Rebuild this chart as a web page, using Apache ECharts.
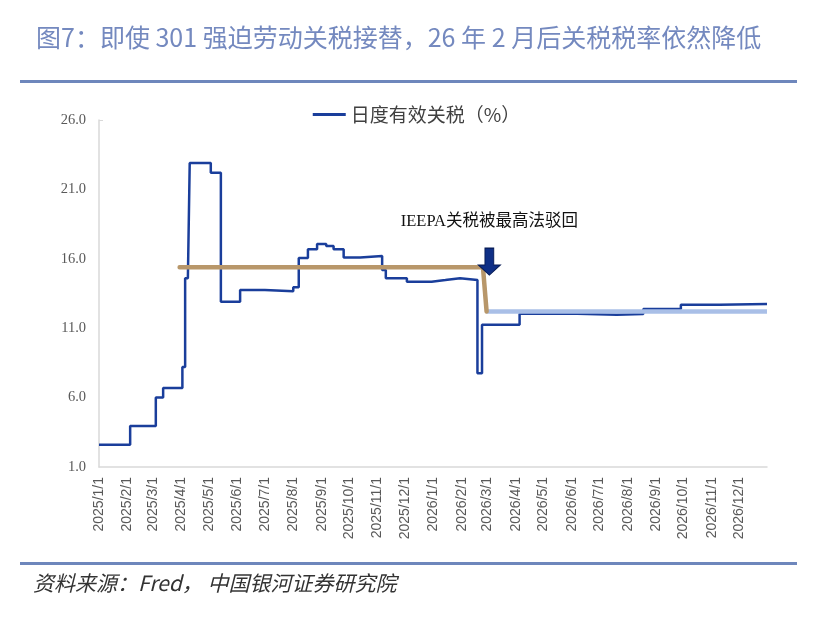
<!DOCTYPE html>
<html>
<head>
<meta charset="utf-8">
<script src="https://cdn.jsdelivr.net/npm/echarts@6/dist/echarts.min.js"></script>
<style>
  html, body { margin: 0; padding: 0; background: #fff; }
  #chart { width: 833px; height: 617px; }
</style>
</head>
<body>
<div id="chart"></div>
<script>
// daily effective tariff (%), change points
const tariffDates = ['2025-01-01', '2025-02-04', '2025-03-04', '2025-03-12', '2025-04-02', '2025-04-05', '2025-04-08',
  '2025-04-10', '2025-05-03', '2025-05-14', '2025-06-04', '2025-07-01', '2025-08-01', '2025-08-07', '2025-08-17',
  '2025-08-27', '2025-09-06', '2025-09-14', '2025-09-25', '2025-10-13', '2025-11-06', '2025-11-10', '2025-12-03',
  '2025-12-30', '2026-01-14', '2026-01-30', '2026-02-18', '2026-02-23', '2026-04-05', '2026-06-07', '2026-07-20',
  '2026-08-18', '2026-09-28', '2026-11-09', '2026-12-31'];
const tariffValues = [2.6, 3.95, 6.0, 6.7, 8.2, 14.6, 14.7,
  22.9, 22.2, 12.9, 13.75, 13.66, 13.95, 16.06, 16.68,
  17.07, 16.92, 16.68, 16.1, 16.2, 15.2, 14.6, 14.35,
  14.47, 14.6, 14.47, 7.75, 11.25, 12.05, 11.97, 12.02,
  12.38, 12.69, 12.74, 12.74];

// level before the ruling (tan) and after it (light blue)
const beforeDates = ['2025-03-30', '2026-02-24', '2026-02-28'];
const beforeValues = [15.4, 15.4, 12.2];
const afterDates = ['2026-02-28', '2026-12-31'];
const afterValues = [12.2, 12.2];

const yTicks = [1, 6, 11, 16, 21, 26];
const seriesName = '日度有效关税（%）';
const noteText = 'IEEPA关税被最高法驳回';
const noteAt = ['2026-03-03', 18.7];
const arrowAt = ['2026-03-03', 15.8];

const zip = (d, v) => d.map((x, i) => [x, v[i]]);

const chart = echarts.init(document.getElementById('chart'));
chart.setOption({
  animation: false,
  title: {
    text: '图7：即使 301 强迫劳动关税接替，26 年 2 月后关税税率依然降低',
    left: 31, top: 20,
    textStyle: { color: '#7489BF', fontSize: 25, fontWeight: 'normal', fontFamily: 'Noto Sans CJK SC' }
  },
  graphic: [
    { type: 'rect', shape: { x: 20, y: 80, width: 777, height: 3 }, style: { fill: '#6E87BC' } },
    { type: 'rect', shape: { x: 20, y: 562, width: 777, height: 3 }, style: { fill: '#6E87BC' } },
    {
      type: 'text', left: 33, top: 573,
      style: { text: '资料来源：Fred， 中国银河证券研究院', fill: '#333', fontSize: 21, fontStyle: 'italic',
        fontFamily: 'Noto Sans CJK SC' }
    }
  ],
  legend: {
    data: [seriesName],
    top: 100, left: 'center',
    itemWidth: 33, itemHeight: 3, icon: 'rect',
    textStyle: { color: '#404040', fontSize: 19, fontFamily: 'Noto Sans CJK SC' }
  },
  grid: { left: 99, right: 66, top: 120, bottom: 150 },
  xAxis: {
    type: 'time',
    min: '2025-01-01', max: '2026-12-31',
    minInterval: 3600 * 24 * 1000 * 28,
    maxInterval: 3600 * 24 * 1000 * 31,
    axisLine: { lineStyle: { color: '#D9D9D9', width: 1.5 } },
    axisTick: { show: false },
    splitLine: { show: false },
    axisLabel: {
      rotate: 90, margin: 10,
      formatter: '{yyyy}/{M}/{d}',
      color: '#595959', fontSize: 14, fontFamily: 'Liberation Sans',
      showMaxLabel: false
    }
  },
  yAxis: {
    type: 'value',
    min: 1, max: 26,
    axisLine: { show: true, lineStyle: { color: '#D9D9D9', width: 1.5 } },
    axisTick: { show: true, inside: true, length: 4, customValues: [26], lineStyle: { color: '#D9D9D9' } },
    splitLine: { show: false },
    axisLabel: {
      customValues: yTicks,
      formatter: v => v.toFixed(1),
      margin: 13,
      color: '#595959', fontSize: 14.5, fontFamily: 'Liberation Serif'
    }
  },
  series: [
    {
      name: seriesName, type: 'line', step: 'end',
      data: zip(tariffDates, tariffValues),
      symbol: 'none',
      lineStyle: { color: '#1A3E9B', width: 2.5 },
      itemStyle: { color: '#1A3E9B' },
      z: 2
    },
    {
      name: 'after', type: 'line',
      data: zip(afterDates, afterValues),
      symbol: 'none',
      lineStyle: { color: '#A9BFE7', width: 4.5 },
      z: 3
    },
    {
      name: 'before', type: 'line',
      data: zip(beforeDates, beforeValues),
      symbol: 'none',
      lineStyle: { color: '#B8976A', width: 4.5, cap: 'round' },
      z: 4,
      markPoint: {
        silent: true,
        data: [
          {
            coord: arrowAt,
            symbol: 'path://M3,0 L7,0 L7,10 L10,10 L5,16 L0,10 L3,10 Z',
            symbolSize: [22, 27], symbolKeepAspect: false,
            itemStyle: { color: '#0F2F86', borderColor: '#061B55', borderWidth: 1 },
            label: { show: false }
          },
          {
            coord: noteAt,
            symbol: 'circle', symbolSize: 0,
            label: {
              show: true, position: 'inside', formatter: noteText,
              color: '#111', fontSize: 16.5, fontFamily: 'Liberation Serif, Noto Sans CJK SC'
            }
          }
        ]
      }
    }
  ]
});
</script>
</body>
</html>
